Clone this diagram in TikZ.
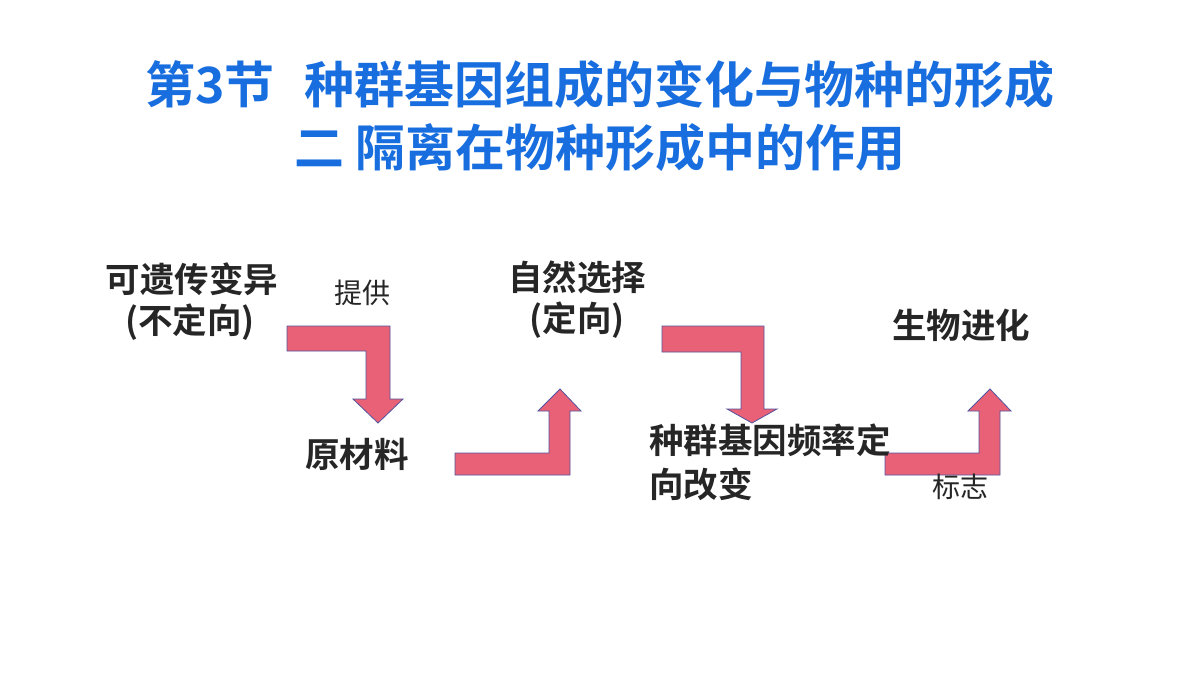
\documentclass[tikz,border=0pt]{standalone}
\usepackage{fontspec}
\setmainfont{Noto Sans CJK SC}
\newfontfamily\cjkb{Noto Sans CJK SC Bold}
\newfontfamily\cjkr{Noto Sans CJK SC}
\definecolor{titleblue}{RGB}{24,110,222}
\definecolor{arrowfill}{RGB}{232,97,118}
\definecolor{arrowline}{RGB}{84,84,160}
\begin{document}
\begin{tikzpicture}[x=1pt,y=-1pt,
  titletext/.style={font=\cjkb\fontsize{50}{58}\selectfont, text=titleblue, inner sep=0pt},
  bodytext/.style={font=\cjkb\fontsize{34.5}{40}\selectfont, text=black!85, inner sep=0pt},
  labeltext/.style={font=\cjkr\fontsize{28}{32}\selectfont, text=black!85, inner sep=0pt},
  bentarrow/.style={fill=arrowfill, draw=arrowline, line width=0.8pt, line join=miter}]
\useasboundingbox (0,0) rectangle (1200,675);
\fill[white] (0,0) rectangle (1200,675);

\node[titletext] (t1) at (600,85) {第3节\hspace{0.6em}种群基因组成的变化与物种的形成};
\node[titletext] (t2) at (600,148) {二 隔离在物种形成中的作用};

% bent arrows
\draw[bentarrow] (287,326) -- (390,326) -- (390,399) -- (403,399) -- (378,423) -- (353,399) -- (366,399) -- (366,351) -- (287,351) -- cycle;
\draw[bentarrow] (455,475) -- (570,475) -- (570,411) -- (581,411) -- (560,389) -- (538,411) -- (549,411) -- (549,453) -- (455,453) -- cycle;
\draw[bentarrow] (662,326) -- (764,326) -- (764,409) -- (777,409) -- (752,423) -- (727,409) -- (741,409) -- (741,352) -- (662,352) -- cycle;
\draw[bentarrow] (885,475) -- (1000,475) -- (1000,411) -- (1011,411) -- (990,389) -- (968,411) -- (979,411) -- (979,453) -- (885,453) -- cycle;

\node[bodytext] (a1) at (192,279) {可遗传变异};
\node[bodytext] (a2) at (190,322) {(不定向)};
\node[labeltext] (l1) at (362,293) {提供};
\node[bodytext] (b1) at (357,454) {原材料};
\node[bodytext] (c1) at (577,277) {自然选择};
\node[bodytext] (c2) at (577,320) {(定向)};
\node[bodytext, anchor=west] (d1) at (649,440) {种群基因频率定};
\node[bodytext, anchor=west] (d2) at (649,484) {向改变};
\node[bodytext] (e1) at (961,325) {生物进化};
\node[labeltext] (l2) at (960,487) {标志};
\end{tikzpicture}
\end{document}
